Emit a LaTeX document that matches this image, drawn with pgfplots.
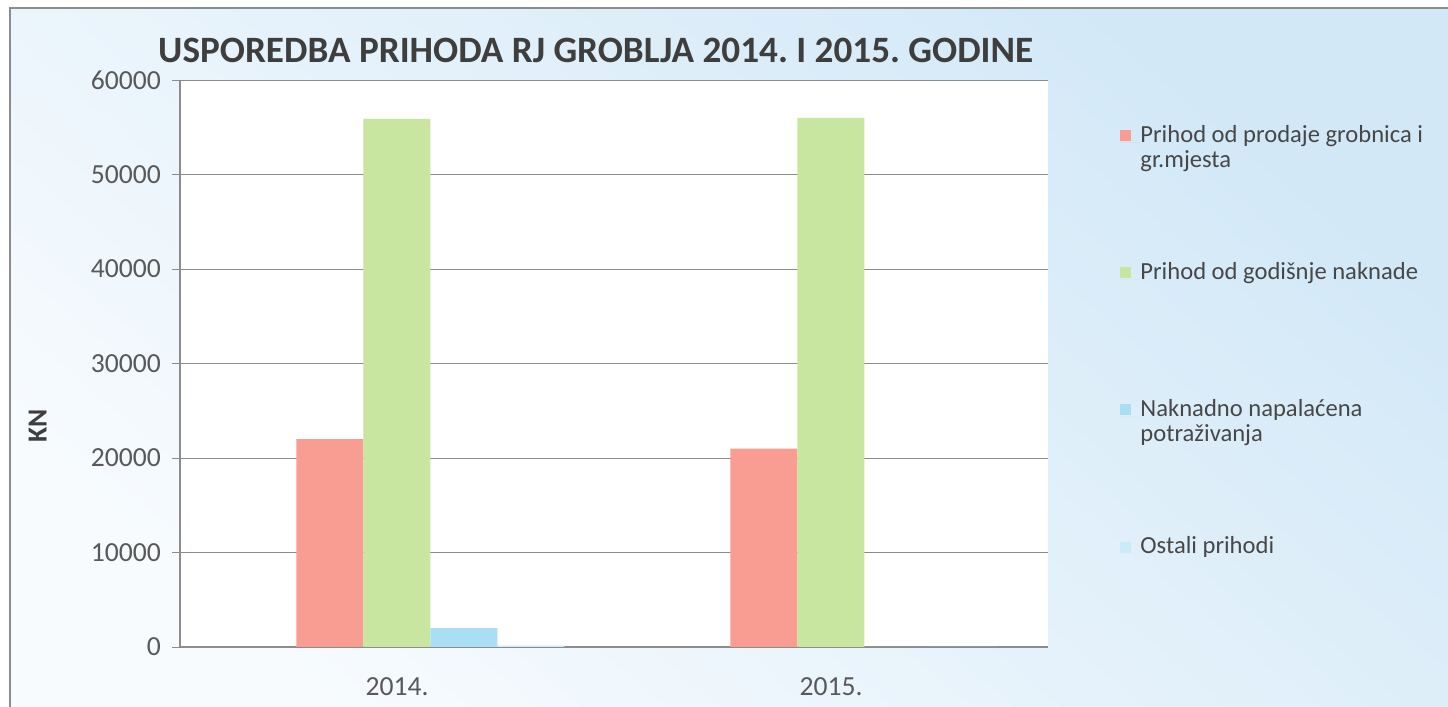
\documentclass[border=0pt]{standalone}
\usepackage{fontspec}
\setmainfont{Carlito}
\usepackage{pgfplots}
\pgfplotsset{compat=1.18}
\definecolor{rjred}{HTML}{F99C92}
\definecolor{rjgreen}{HTML}{C9E6A0}
\definecolor{rjblue}{HTML}{A9DFF4}
\definecolor{rjlight}{HTML}{CBEBF8}
\definecolor{rjtext}{HTML}{595959}
\definecolor{rjgrid}{HTML}{8C8C8C}
\definecolor{rjbgtop}{HTML}{D2E8F7}
\definecolor{rjbgbot}{HTML}{F7FBFE}
\frenchspacing

\begin{document}
\begin{tikzpicture}
% page and chart background (1 px of the reference = 0.5pt)
\path[use as bounding box, fill=white] (-90pt,-30pt) rectangle (634pt,323.5pt);
\shade[top color=rjbgtop, bottom color=rjbgbot, shading angle=-40]
  (-85pt,-30pt) rectangle (634pt,319.5pt);
\draw[rjgrid, line width=0.8pt] (-85pt,-30pt) -- (-85pt,319.5pt) -- (634pt,319.5pt);
\fill[white] (0pt,0pt) rectangle (434pt,283.5pt);
\begin{axis}[
  at={(0pt,0pt)}, anchor=south west,
  scale only axis, width=434pt, height=283.5pt,
  ybar, bar width=33.5pt,
  xmin=-0.5, xmax=1.5, ymin=0, ymax=60000,
  xtick={0,1}, xticklabels={2014.,2015.},
  extra x ticks={-0.5,0.5,1.5}, extra x tick labels={},
  extra x tick style={major tick length=5pt, tick style={rjgrid}},
  x tick style={draw=none},
  ytick={0,10000,...,60000},
  scaled y ticks=false,
  /pgf/number format/fixed,
  /pgf/number format/1000 sep={},
  /pgf/number format/assume math mode=true,
  tick align=outside, major tick length=4pt,
  y tick style={rjgrid},
  axis x line*=bottom, axis y line*=left,
  axis line style={rjgrid, line width=0.6pt},
  ymajorgrids, grid style={rjgrid, line width=0.5pt},
  tick label style={font=\fontsize{13.8}{16}\selectfont, text=rjtext},
  xticklabel style={yshift=-8pt},
  yticklabel style={xshift=-2pt},
  title={\textbf{USPOREDBA PRIHODA RJ GROBLJA 2014. I 2015. GODINE}},
  title style={at={(axis description cs:0.479,1.031)}, anchor=center,
    font=\fontsize{18.6}{22}\selectfont, text=rjtext!70!black},
  ylabel={\textbf{KN}},
  ylabel style={at={(axis description cs:-0.164,0.39)}, anchor=center,
    font=\fontsize{13.8}{16}\selectfont, text=rjtext!70!black},
  legend image code/.code={%
    \fill[#1, draw=none] (0pt,0.5pt) rectangle (5.5pt,6pt);
    \path (0pt,0pt) -- (10pt,0pt);},
  legend style={at={(axis description cs:1.083,0.921)}, anchor=north west,
    draw=none, fill=none, inner sep=0pt, row sep=0pt,
    font=\fontsize{12.3}{12.5pt}\selectfont, text=rjtext!80!black,
    nodes={inner sep=0pt, text depth=60pt},
    cells={anchor=base west}},
]
\addplot[fill=rjred, draw=none, bar shift=-33.5pt] coordinates {(0,22000) (1,21000)};
\addlegendentry{\parbox[t]{180pt}{\raggedright Prihod od prodaje grobnica i\\gr.mjesta}}
\addplot[fill=rjgreen, draw=none, bar shift=0pt] coordinates {(0,55900) (1,56000)};
\addlegendentry{Prihod od godišnje naknade}
\addplot[fill=rjblue, draw=none, bar shift=33.5pt] coordinates {(0,2000) (1,0)};
\addlegendentry{\parbox[t]{180pt}{\raggedright Naknadno napalaćena\\potraživanja}}
\addplot[fill=rjlight, draw=none, bar shift=67pt] coordinates {(0,150) (1,0)};
\addlegendentry{Ostali prihodi}
\end{axis}
\end{tikzpicture}
\end{document}
